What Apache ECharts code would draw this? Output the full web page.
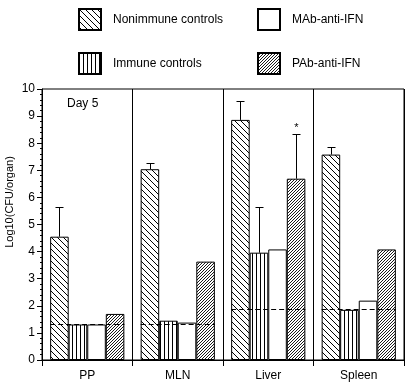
<!DOCTYPE html>
<html>
<head>
<meta charset="utf-8">
<script src="https://cdn.jsdelivr.net/npm/echarts@6.0.0/dist/echarts.min.js"></script>
<style>
  html, body { margin: 0; padding: 0; background: #fff; }
  #main { width: 411px; height: 387px; }
</style>
</head>
<body>
<div id="main"></div>
<script>
// data (log10 CFU per organ, day 5)
const categories = ['PP', 'MLN', 'Liver', 'Spleen'];
const seriesNames = ['Nonimmune controls', 'Immune controls', 'MAb-anti-IFN', 'PAb-anti-IFN'];
const nonimmune = [4.55, 7.04, 8.86, 7.58];
const immune = [1.31, 1.45, 3.96, 1.85];
const mab = [1.31, 1.38, 4.08, 2.19];
const pab = [1.7, 3.63, 6.69, 4.08];
// upper end of the error bars (null = none drawn)
const nonimmuneErr = [5.66, 7.28, 9.57, 7.87];
const immuneErr = [null, null, 5.66, null];
const mabErr = [null, null, null, null];
const pabErr = [null, null, 8.33, null];
const pabMarks = ['', '', '*', ''];
// dashed detection limit in each organ
const detectionLimit = [1.33, 1.33, 1.88, 1.88];

const GAP = 0.18;
const FONT = 'Liberation Sans, Arial, sans-serif';

// hatch fills
function makePattern(kind) {
  const c = document.createElement('canvas');
  const s = kind === 'back' ? 6 : kind === 'fwd' ? 3 : 4;
  c.width = s; c.height = s;
  const ctx = c.getContext('2d');
  ctx.fillStyle = '#fff';
  ctx.fillRect(0, 0, s, s);
  ctx.strokeStyle = '#000';
  ctx.lineWidth = kind === 'fwd' ? 0.9 : 1;
  ctx.beginPath();
  if (kind === 'back') {
    ctx.moveTo(-1, -1); ctx.lineTo(s + 1, s + 1);
    ctx.moveTo(-1, s - 1); ctx.lineTo(1, s + 1);
    ctx.moveTo(s - 1, -1); ctx.lineTo(s + 1, 1);
  } else if (kind === 'fwd') {
    ctx.moveTo(-1, s + 1); ctx.lineTo(s + 1, -1);
    ctx.moveTo(-1, 1); ctx.lineTo(1, -1);
    ctx.moveTo(s - 1, s + 1); ctx.lineTo(s + 1, s - 1);
  } else if (kind === 'vert') {
    ctx.moveTo(0.5, 0); ctx.lineTo(0.5, s);
  }
  ctx.stroke();
  return { image: c, repeat: 'repeat' };
}

const fills = [makePattern('back'), makePattern('vert'), '#fff', makePattern('fwd')];
const values = [nonimmune, immune, mab, pab];
const errs = [nonimmuneErr, immuneErr, mabErr, pabErr];
const marks = [null, null, null, pabMarks];

const errItems = [];
errs.forEach((arr, s) => {
  arr.forEach((e, i) => {
    if (e != null) errItems.push({ cat: i, s: s, v: values[s][i], e: e, mark: marks[s] ? marks[s][i] : '' });
  });
});

const chart = echarts.init(document.getElementById('main'));

const barSeries = seriesNames.map((name, s) => ({
  name: name,
  type: 'bar',
  data: values[s],
  barGap: '0%',
  barCategoryGap: (GAP * 100) + '%',
  itemStyle: { color: fills[s], borderColor: '#000', borderWidth: 1 },
  emphasis: { disabled: true },
  z: 2
}));

const legendPos = [
  { left: 78, top: 8 },
  { left: 78, top: 52 },
  { left: 257, top: 8 },
  { left: 257, top: 52 }
];

const option = {
  animation: false,
  textStyle: { fontFamily: FONT },
  legend: seriesNames.map((name, s) => ({
    data: [name],
    icon: 'rect',
    left: legendPos[s].left,
    top: legendPos[s].top,
    padding: 0,
    itemWidth: 22,
    itemHeight: 21,
    selectedMode: false,
    textStyle: { fontSize: 12, color: '#000', fontFamily: FONT, padding: [0, 0, 0, 7] }
  })),
  grid: {
    left: 42, right: 7, top: 89, bottom: 27,
    show: true, borderColor: '#000', borderWidth: 1, backgroundColor: 'transparent'
  },
  xAxis: {
    type: 'category',
    data: categories,
    axisLine: { lineStyle: { color: '#000', width: 1 } },
    axisTick: { show: true, length: 6, alignWithLabel: false, interval: 0, lineStyle: { color: '#000' } },
    splitLine: { show: true, interval: 0, lineStyle: { color: '#000', width: 1 } },
    axisLabel: { color: '#000', fontSize: 12, margin: 10, fontFamily: FONT }
  },
  yAxis: {
    type: 'value',
    min: 0, max: 10, interval: 1,
    axisLine: { show: true, lineStyle: { color: '#000', width: 1 } },
    axisTick: { show: true, length: 5, lineStyle: { color: '#000' } },
    minorTick: { show: true, splitNumber: 5, length: 2, lineStyle: { color: '#000' } },
    splitLine: { show: false },
    axisLabel: { color: '#000', fontSize: 12, margin: 7, fontFamily: FONT }
  },
  graphic: [
    {
      type: 'text', x: 10, y: 202, rotation: Math.PI / 2,
      style: { text: 'Log10(CFU/organ)', fill: '#000', font: '11px ' + FONT, align: 'center', verticalAlign: 'middle' }
    },
    {
      type: 'text', x: 67, y: 104,
      style: { text: 'Day 5', fill: '#000', font: '12px ' + FONT, align: 'left', verticalAlign: 'middle' }
    }
  ],
  series: barSeries.concat([
    {
      type: 'custom',
      name: 'errors',
      z: 4,
      silent: true,
      data: errItems.map(d => [d.cat, d.e]),
      renderItem: function (params, api) {
        const d = errItems[params.dataIndex];
        const band = api.size([1, 0])[0];
        const bw = band * (1 - GAP) / 4;
        const base = api.coord([d.cat, d.v]);
        const top = api.coord([d.cat, d.e]);
        const x = Math.round(base[0] - 2 * bw + (d.s + 0.5) * bw) + 0.5;
        const ty = Math.round(top[1]) + 0.5;
        const children = [
          { type: 'line', shape: { x1: x, y1: base[1], x2: x, y2: ty }, style: { stroke: '#000', lineWidth: 1 } },
          { type: 'line', shape: { x1: x - 4, y1: ty, x2: x + 4, y2: ty }, style: { stroke: '#000', lineWidth: 1 } }
        ];
        if (d.mark) {
          children.push({ type: 'text', x: x, y: ty - 1, style: { text: d.mark, fill: '#000', font: '11px ' + FONT, align: 'center', verticalAlign: 'bottom' } });
        }
        return { type: 'group', children: children };
      }
    },
    {
      type: 'custom',
      name: 'limit',
      z: 3,
      silent: true,
      data: detectionLimit.map((v, i) => [i, v]),
      renderItem: function (params, api) {
        const band = api.size([1, 0])[0];
        const half = band * (1 - GAP) / 2;
        const c = api.coord([api.value(0), api.value(1)]);
        const y = Math.round(c[1]) + 0.5;
        return {
          type: 'line',
          shape: { x1: c[0] - half, y1: y, x2: c[0] + half, y2: y },
          style: { stroke: '#000', lineWidth: 1, lineDash: [5, 3] }
        };
      }
    }
  ])
};

chart.setOption(option);
</script>
</body>
</html>
